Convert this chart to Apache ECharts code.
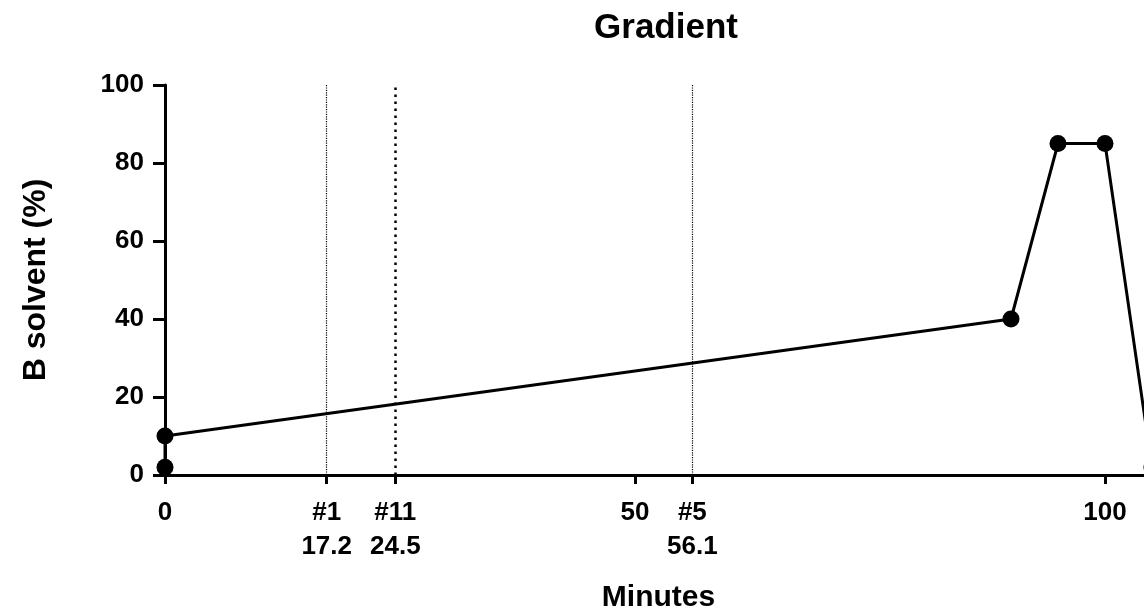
<!DOCTYPE html>
<html>
<head>
<meta charset="utf-8">
<script src="https://cdn.jsdelivr.net/npm/echarts@6/dist/echarts.min.js"></script>
<style>
  html, body { margin: 0; padding: 0; background: #fff; }
  #chart { width: 1144px; height: 611px; }
</style>
</head>
<body>
<div id="chart"></div>
<script>
// Gradient program: time (min) vs % of solvent B
const minutes = [0, 0, 90, 95, 100, 105];
const bSolvent = [2, 10, 40, 85, 85, 2];

// Retention markers drawn as dotted verticals
const markerTimes = [17.2, 24.5, 56.1];
const markerNames = ['#1', '#11', '#5'];

// X-axis ticks and their labels
const xTickValues = [0, 17.2, 24.5, 50, 56.1, 100];
const xTickLabels = ['0', '#1\n17.2', '#11\n24.5', '50', '#5\n56.1', '100'];

const yTicks = [0, 20, 40, 60, 80, 100];

const FONT = 'Liberation Sans, Arial, sans-serif';

const chart = echarts.init(document.getElementById('chart'), null, { renderer: 'canvas' });

const markLines = markerTimes.map((t, i) => ({
  name: markerNames[i],
  xAxis: t,
  lineStyle: { type: i === 1 ? [2.5, 4.5] : 'dotted', width: i === 1 ? 2.5 : 1.2, color: '#000' }
}));

chart.setOption({
  animation: false,
  backgroundColor: '#fff',
  title: {
    text: 'Gradient',
    left: 661,
    textAlign: 'center',
    top: 6,
    textStyle: { fontFamily: FONT, fontWeight: 'bold', fontSize: 35, color: '#000' }
  },
  grid: { left: 165, top: 85, height: 390, width: 987, outerBoundsMode: 'none', containLabel: false },
  xAxis: {
    type: 'value',
    min: 0,
    max: 105,
    name: 'Minutes',
    nameLocation: 'middle',
    nameGap: 108,
    nameTextStyle: { fontFamily: FONT, fontWeight: 'bold', fontSize: 30, color: '#000' },
    axisLine: { show: true, onZero: false, lineStyle: { color: '#000', width: 3 } },
    axisTick: { show: true, length: 9, customValues: xTickValues, lineStyle: { color: '#000', width: 3 } },
    axisLabel: {
      customValues: xTickValues,
      formatter: (v) => {
        const i = xTickValues.findIndex(x => Math.abs(x - v) < 1e-6);
        return i >= 0 ? xTickLabels[i] : '';
      },
      margin: 21,
      fontFamily: FONT, fontWeight: 'bold', fontSize: 26, color: '#000',
      lineHeight: 34
    },
    splitLine: { show: false }
  },
  yAxis: {
    type: 'value',
    min: 0,
    max: 100,
    interval: 20,
    name: 'B solvent (%)',
    nameLocation: 'middle',
    nameGap: 113,
    nameTextStyle: { fontFamily: FONT, fontWeight: 'bold', fontSize: 32, color: '#000' },
    axisLine: { show: true, lineStyle: { color: '#000', width: 3 } },
    axisTick: { show: true, length: 12, lineStyle: { color: '#000', width: 3 } },
    axisLabel: {
      customValues: yTicks,
      margin: 21,
      fontFamily: FONT, fontWeight: 'bold', fontSize: 26, color: '#000'
    },
    splitLine: { show: false }
  },
  series: [{
    type: 'line',
    data: minutes.map((m, i) => [m, bSolvent[i]]),
    symbol: 'circle',
    symbolSize: 17,
    showAllSymbol: true,
    clip: true,
    lineStyle: { color: '#000', width: 3 },
    itemStyle: { color: '#000' },
    markLine: {
      silent: true,
      symbol: ['none', 'none'],
      label: { show: false },
      data: markLines
    },
    z: 3
  }]
});
</script>
</body>
</html>
